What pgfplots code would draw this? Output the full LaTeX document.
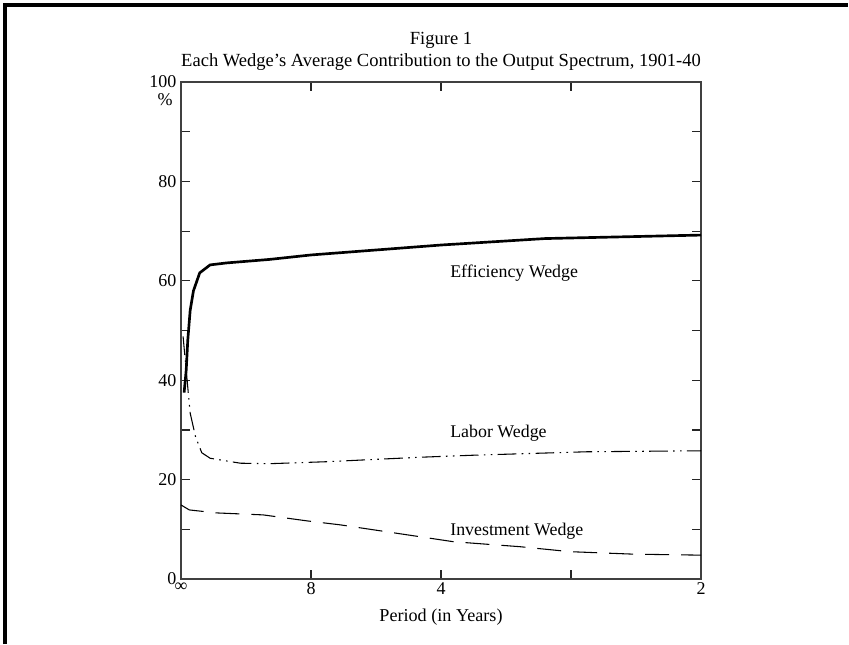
\documentclass[border=0pt]{standalone}
\usepackage{fontspec}
\setmainfont{Liberation Serif}
\usepackage{pgfplots}
\pgfplotsset{compat=1.18}
\begin{document}
\begin{tikzpicture}
\path[use as bounding box] (-135.75pt,-48.75pt) rectangle (501pt,434.25pt);
\draw[line width=3pt] (-132pt,-48.75pt) -- (-132pt,430.5pt) -- (500pt,430.5pt);
\begin{axis}[
  scale only axis, width=390pt, height=372.75pt,
  xmin=0, xmax=0.5, ymin=0, ymax=100,
  xtick={0,0.125,0.25,0.375,0.5},
  xticklabels={∞,8,4,,2},
  ytick={0,10,...,100},
  yticklabels={0,,20,,40,,60,,80,,100},
  tick align=inside, major tick length=7pt,
  tick style={color=black!85, line width=0.9pt},
  axis line style={color=black!75, line width=1pt},
  tick label style={font=\fontsize{13.5}{15}\selectfont},
  /pgf/number format/assume math mode=true,
  xticklabel style={yshift=1pt},
  clip=false,
]
% efficiency wedge
\addplot[black, line width=2pt] coordinates {
 (0.003,37.5) (0.005,42) (0.0065,48) (0.0088,54) (0.012,58) (0.018,61.6)
 (0.028,63.2) (0.044,63.6) (0.085,64.3) (0.125,65.2) (0.25,67.2)
 (0.35,68.5) (0.5,69.2)};
% labor wedge
\addplot[black, line width=0.8pt, dash pattern=on 14pt off 4pt on 1.2pt off 4pt on 1.2pt off 4pt] coordinates {
 (0.002,48.8) (0.0088,33.4) (0.014,28.6) (0.02,25.4) (0.028,24.3) (0.057,23.3)
 (0.085,23.2) (0.14,23.6) (0.23,24.5) (0.28,24.9) (0.39,25.6) (0.5,25.8)};
% investment wedge
\addplot[black, line width=0.8pt, dash pattern=on 18pt off 9pt] coordinates {
 (0,14.9) (0.008,13.9) (0.034,13.3) (0.079,12.9) (0.121,11.7) (0.153,10.9)
 (0.23,8.5) (0.262,7.5) (0.326,6.5) (0.374,5.5) (0.435,5.0) (0.5,4.8)};
\node[anchor=west, inner sep=0pt, font=\fontsize{13.4}{15}\selectfont] at (axis cs:0.2587,61.6) {Efficiency Wedge};
\node[anchor=west, inner sep=0pt, font=\fontsize{13.4}{15}\selectfont] at (axis cs:0.2587,29.4) {Labor Wedge};
\node[anchor=west, inner sep=0pt, font=\fontsize{13.4}{15}\selectfont] at (axis cs:0.2587,9.7) {Investment Wedge};
\node[font=\fontsize{13.5}{15}\selectfont] at ([xshift=-12pt,yshift=-13pt]rel axis cs:0,1) {\%};
\node[font=\fontsize{13.9}{16}\selectfont] at ([yshift=31.5pt]rel axis cs:0.5,1) {Figure 1};
\node[font=\fontsize{13.9}{16}\selectfont] at ([yshift=15pt]rel axis cs:0.5,1) {Each Wedge's Average Contribution to the Output Spectrum, 1901-40};
\node[font=\fontsize{13.6}{15}\selectfont] at ([yshift=-28.5pt]rel axis cs:0.5,0) {Period (in Years)};
\end{axis}
\end{tikzpicture}
\end{document}
